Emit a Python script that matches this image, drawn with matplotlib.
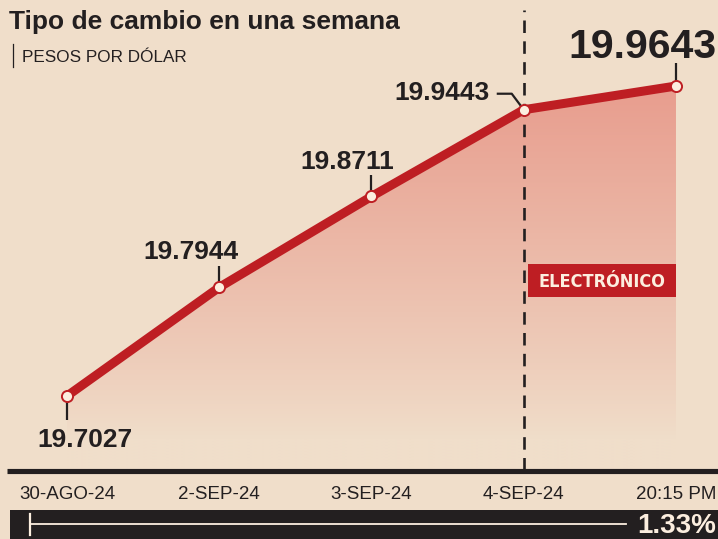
import matplotlib
matplotlib.use("Agg")
import matplotlib.pyplot as plt
import numpy as np
from matplotlib.patches import Rectangle
from matplotlib.lines import Line2D
from matplotlib import font_manager

# ---- data ----
categories = ["30-AGO-24", "2-SEP-24", "3-SEP-24", "4-SEP-24", "20:15 PM"]
values = [19.7027, 19.7944, 19.8711, 19.9443, 19.9643]
value_labels = ["19.7027", "19.7944", "19.8711", "19.9443", "19.9643"]
title = "Tipo de cambio en una semana"
subtitle = "PESOS POR DÓLAR"
change_label = "1.33%"
electronic_label = "ELECTRÓNICO"

BG = "#F0DECA"
RED = "#BE1E23"
DARK = "#231F20"
CREAM = "#FCEEDF"
PINK = np.array([232, 157, 142]) / 255.0
BGc = np.array([240, 222, 202]) / 255.0

plt.rcParams["lines.scale_dashes"] = False
W, H = 718, 539
fig = plt.figure(figsize=(W / 100, H / 100), dpi=100, facecolor=BG)
ax = fig.add_axes([0, 0, 1, 1])
ax.set_facecolor(BG)
ax.axis("off")

x = np.arange(len(values))
XL = (-0.44, 4.276)
YL = (19.5820, 20.0369)
ax.set_xlim(*XL)
ax.set_ylim(*YL)

def fx(px):
    return px / W

def fy(py):
    return 1 - py / H

# gradient fill under the line
base_v = ax.transData.inverted().transform((0, H - 470))[1]
poly = ax.fill_between(x, values, base_v, color="none", lw=0)
top_v = max(values)
n = 256
grad = np.zeros((n, 1, 4))
t = np.linspace(0, 1, n)  # 0 bottom -> 1 top
t = np.clip((t - 0.08) / 0.92, 0, 1) ** 0.9
for i in range(3):
    grad[:, 0, i] = BGc[i] + (PINK[i] - BGc[i]) * t
grad[:, 0, 3] = 1
im = ax.imshow(grad, extent=[x[0], x[-1], base_v, top_v], origin="lower",
               aspect="auto", zorder=1, interpolation="bilinear")
im.set_clip_path(poly.get_paths()[0], transform=ax.transData)
ax.set_xlim(*XL)
ax.set_ylim(*YL)

# dashed vertical line at 4-SEP
dl = Line2D([x[3], x[3]], [fy(470), fy(10)], color=DARK, lw=1.9,
            dashes=(9, 6), transform=ax.get_xaxis_transform(), zorder=2)
ax.add_line(dl)

# leaders (pixel offsets from the data point)
leader_specs = [
    [(0, 0), (0, -24)],
    [(0, 0), (0, 21)],
    [(0, 0), (0, 21)],
    [(0, 0), (-12, 16), (-27, 16)],
    [(0, 0), (0, 23)],
]
for i, spec in enumerate(leader_specs):
    base = ax.transData.transform((x[i], values[i]))
    pts = np.array([base + np.array(p) for p in spec])
    q = ax.transData.inverted().transform(pts)
    ax.plot(q[:, 0], q[:, 1], color=DARK, lw=1.6, zorder=3,
            solid_capstyle="butt")

# main line
ax.plot(x, values, color=RED, lw=6.5, zorder=4, solid_capstyle="butt",
        solid_joinstyle="round")
ax.plot(x, values, "o", ms=8, mfc=CREAM, mec=RED, mew=1.4, zorder=5)

# value labels
label_font = ["Liberation Sans", "DejaVu Sans"]
label_specs = [
    (18, -51, "center", 19),
    (-28, 28, "center", 19),
    (-24, 27, "center", 19),
    (-34, 10, "right", 19),
    (41, 28, "right", 29.5),
]
for i, (dx, dy, ha, fs) in enumerate(label_specs):
    ax.annotate(value_labels[i], xy=(x[i], values[i]), xytext=(dx * 0.72, dy * 0.72),
                textcoords="offset points", ha=ha, va="baseline", fontsize=fs,
                fontweight="bold", color=DARK, family=label_font, zorder=6)

# ELECTRONICO box
ax.add_patch(Rectangle((fx(528), fy(297)), fx(676) - fx(528), fy(264) - fy(297),
                       transform=ax.transAxes, facecolor=RED, edgecolor="none",
                       zorder=5))
cond = font_manager.FontProperties(family="DejaVu Sans", stretch="condensed",
                                   weight="bold", size=13)
ax.text(fx(602), fy(281.5), electronic_label, transform=ax.transAxes,
        ha="center", va="center", fontproperties=cond, color=CREAM, zorder=6)

# baseline
ax.plot([fx(7), fx(718)], [fy(471), fy(471)], transform=ax.transAxes,
        color=DARK, lw=3.7, zorder=6, solid_capstyle="butt")

# tick labels
for i, c in enumerate(categories):
    ax.text(x[i], fy(499), c, transform=ax.get_xaxis_transform(),
            ha="center", va="baseline", fontsize=13.5, color=DARK,
            family=label_font)

# title and subtitle
ax.text(fx(9), fy(29), title, transform=ax.transAxes, ha="left",
        va="baseline", fontsize=19, fontweight="bold", color=DARK,
        family=label_font)
ax.plot([fx(12.5), fx(12.5)], [fy(44), fy(67)], transform=ax.transAxes,
        color=DARK, lw=0.9)
ax.text(fx(22), fy(62), subtitle, transform=ax.transAxes, ha="left",
        va="baseline", fontsize=12.3, color=DARK, family=label_font)

# bottom bar
ax.add_patch(Rectangle((fx(10), 0), 1 - fx(10), fy(510), transform=ax.transAxes,
                       facecolor=DARK, edgecolor="none", zorder=6))
ax.plot([fx(30), fx(626)], [fy(524), fy(524)], transform=ax.transAxes,
        color=CREAM, lw=1.3, zorder=7)
ax.plot([fx(30), fx(30)], [fy(514), fy(535)], transform=ax.transAxes,
        color=CREAM, lw=1.6, zorder=7)
ax.text(fx(716), fy(533), change_label, transform=ax.transAxes, ha="right",
        va="baseline", fontsize=20, fontweight="bold", color=CREAM,
        family=label_font, zorder=7)

fig.savefig("out.png", dpi=100, facecolor=BG)
